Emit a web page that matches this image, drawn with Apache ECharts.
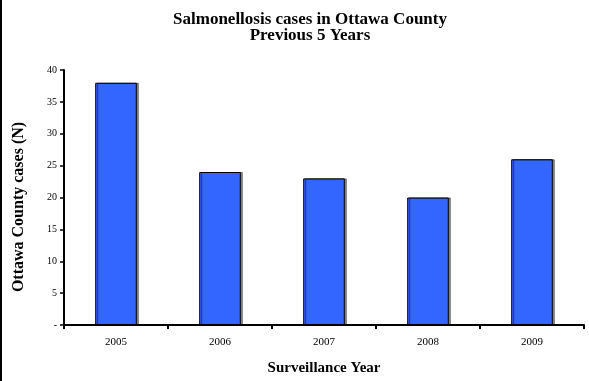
<!DOCTYPE html>
<html><head><meta charset="utf-8">
<script src="https://cdn.jsdelivr.net/npm/echarts@6/dist/echarts.min.js"></script>
<style>html,body{margin:0;padding:0;background:#fff}#c{width:589px;height:381px}</style>
</head><body><div id="c"></div>
<script>
const categories = ['2005','2006','2007','2008','2009'];
const cases = [38, 24, 23, 20, 26];
const titleLines = ['Salmonellosis cases in Ottawa County', 'Previous 5 Years'];
const yName = 'Ottawa County cases (N)';
const xName = 'Surveillance Year';

const chart = echarts.init(document.getElementById('c'), null, {renderer:'canvas'});
const serif = '"Liberation Serif","Times New Roman",serif';
chart.setOption({
  animation: false,
  backgroundColor: '#fff',
  title: [
    {text: titleLines[0], left: 305, top: 6, textAlign: 'center',
     textStyle:{fontFamily: serif, fontWeight:'bold', fontSize:17, lineHeight:17, color:'#000'}},
    {text: titleLines[1], left: 305, top: 22, textAlign: 'center',
     textStyle:{fontFamily: serif, fontWeight:'bold', fontSize:17, lineHeight:17, color:'#000'}}
  ],
  graphic: [
    {type:'rect', left:0, top:0, shape:{width:2, height:381}, style:{fill:'#000'}},
    {type:'text', x:19, y:207, rotation: Math.PI/2,
     style:{text: yName, align:'center', verticalAlign:'middle',
            font: 'bold 16px ' + serif, fill:'#000'}}
  ],
  grid: {left:64, right:5, top:70, bottom:51, containLabel:false},
  xAxis: {
    type:'category', data: categories,
    name: xName, nameLocation:'middle', nameGap: 36,
    nameTextStyle:{fontFamily: serif, fontWeight:'bold', fontSize:15, color:'#000'},
    axisLine:{lineStyle:{color:'#000', width:2}},
    axisTick:{show:true, length:4, lineStyle:{color:'#000', width:2}},
    axisLabel:{fontFamily: serif, fontSize:11, color:'#000', margin:12}
  },
  yAxis: {
    type:'value', min:0, max:40, interval:5,
    axisLine:{show:true, lineStyle:{color:'#000', width:2}},
    axisTick:{show:true, length:4, lineStyle:{color:'#000', width:1.5}},
    splitLine:{show:false},
    axisLabel:{fontFamily: serif, fontSize:10, color:'#000', margin:7,
      formatter: v => v === 0 ? '-' : String(v)}
  },
  series: [{
    type:'bar', data: cases, barWidth: '40%',
    itemStyle:{color:'#3366FF', borderColor:'#000', borderWidth:1,
      shadowColor:'rgba(0,0,0,0.45)', shadowOffsetX:2, shadowOffsetY:0, shadowBlur:0}
  }]
});
</script></body></html>
